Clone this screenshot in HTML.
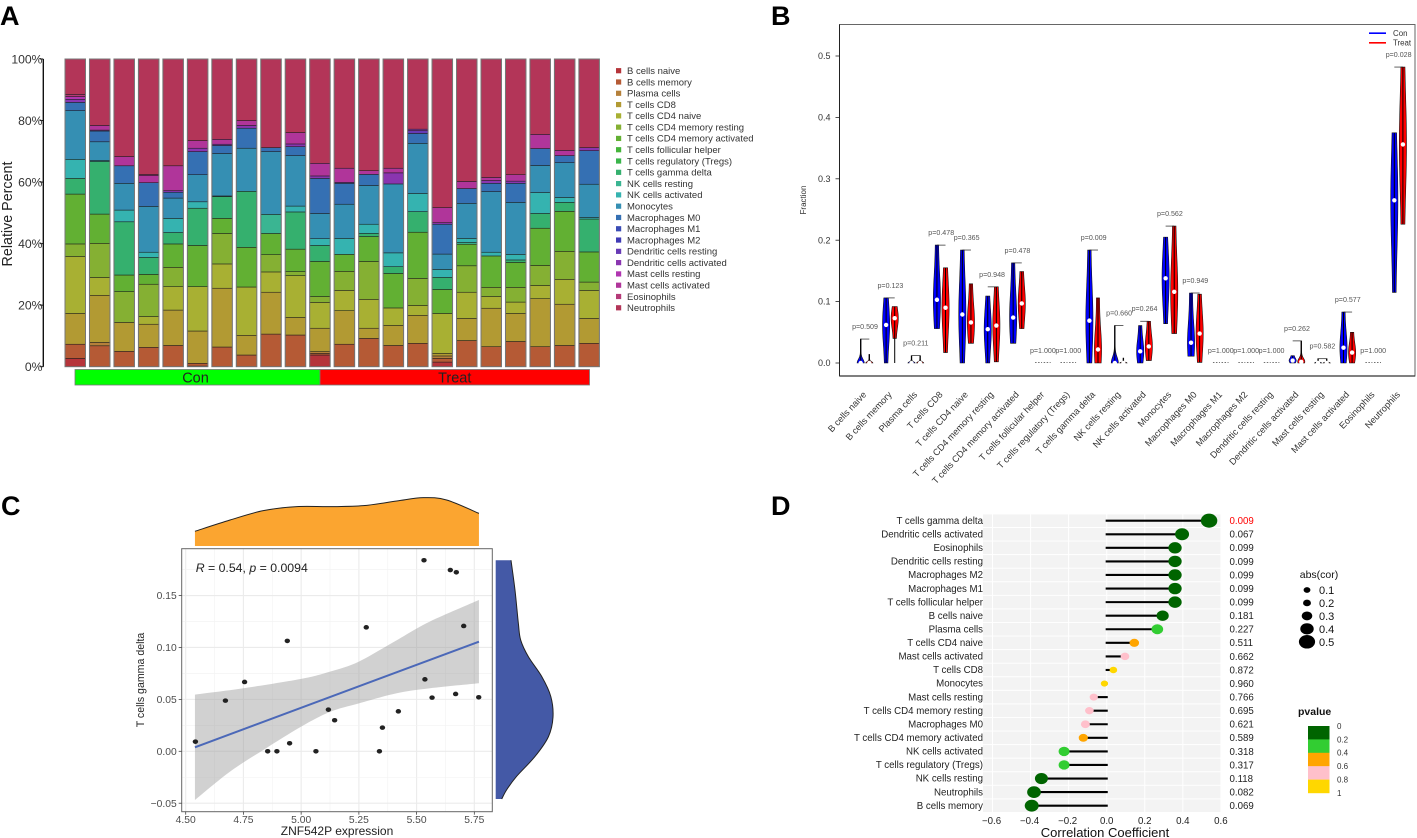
<!DOCTYPE html>
<html lang="en">
<head>
<meta charset="utf-8">
<title>Immune cell infiltration figure</title>
<style>
html,body{margin:0;padding:0;background:#fff;}
svg{display:block;font-family:"Liberation Sans",sans-serif;}
</style>
</head>
<body>
<svg id="fig" xmlns="http://www.w3.org/2000/svg" width="1417" height="838" viewBox="0 0 1417 838">
  <rect x="0" y="0" width="1417" height="838" fill="#fff"/>
  <text x="0" y="25" font-size="27" font-weight="bold">A</text>
  <text x="771" y="25" font-size="27" font-weight="bold">B</text>
  <text x="1" y="515" font-size="27" font-weight="bold">C</text>
  <text x="771" y="515" font-size="27" font-weight="bold">D</text>
  <g id="panelA"></g>
  <g id="panelB"></g>
  <g id="panelC"></g>
  <g id="panelD"></g>
</svg>
<script>
/* ---------- shared data ---------- */
const cellTypes = ["B cells naive","B cells memory","Plasma cells","T cells CD8","T cells CD4 naive","T cells CD4 memory resting","T cells CD4 memory activated","T cells follicular helper","T cells regulatory (Tregs)","T cells gamma delta","NK cells resting","NK cells activated","Monocytes","Macrophages M0","Macrophages M1","Macrophages M2","Dendritic cells resting","Dendritic cells activated","Mast cells resting","Mast cells activated","Eosinophils","Neutrophils"];
const cellColors = ["#b5343a","#b55a35","#b5803a","#b29a33","#a8b033","#85b033","#62b033","#45b53a","#3ab54b","#35b06e","#3ab592","#35b3b0","#358fb3","#3570b3","#3a4cb5","#3f3ab5","#673ab5","#8a35b0","#b035b0","#b0359a","#b53a78","#b33558"];

/* Panel A: percent per cell type (columns follow cellTypes), one row per sample */
const sampleFractions = [
[2.7,4.6,0,10,18.5,4.1,16.2,0,0,5.1,0,6.2,15.8,2.7,0,0,0,1,0.9,0,0.7,11.5],
[0,6.8,1.1,15.3,5.8,11.1,9.5,0,0,17.1,0,0.3,6.1,3.5,0,0,0,0.3,0,1.5,0,21.6],
[0,5,0,9.4,0,10,5.4,0,0,17.3,0,3.8,8.7,5.7,0,0,0,0,0,3,0,31.7],
[0,6.3,0,7.5,2.5,10.5,3.2,0,0,5.5,0,1.7,14.9,7.7,0,0,0,0,0,2.4,0.3,37.5],
[0,6.9,0,11.5,7.6,6.3,7.6,0,0,3.7,0,4.6,6.6,1.9,0,0,0,0.5,0,8.1,0,34.7],
[0.2,0.9,0,10.5,14.4,0,13.4,0,0,12.1,0,2.1,8.8,7.5,0,0,0,1.1,0,2.5,0,26.5],
[0,6.4,0,19.1,7.9,9.9,4.9,0,0,7.1,0,0.2,13.8,2.6,0,0,0,0.4,0,1.6,0,26.1],
[0,3.8,0,6.4,15.7,0,12.9,0,0,18.2,0,0,14,6.5,0,0,0,0.9,0,1.6,0,20],
[0,10.6,0,13.6,6.6,5.6,6.9,0,0,0,6.2,0,20.4,1.3,0,0,0,0,0,0,0,28.8],
[0,10.3,0,5.7,13.6,1.3,7.3,0,0,12.1,0,1.9,16.4,2.9,0,0,0,0.9,0,3.7,0,23.9],
[3.8,0.5,0.6,7.6,8.4,1.9,11.4,0,0,5.2,0,2.2,8.2,11.4,0,0,0,0.8,0,4.1,0,33.9],
[0,7.3,0,10.9,6.6,6.2,5.5,0,0,0,0,5.2,11.1,6.8,0,0,0,0.3,0,4.6,0,35.5],
[0,9.2,0,3.3,9.4,12.3,8.1,0,0,1,0,3,12.6,3.6,0,0,0,0,0,1.2,0,36.3],
[0,6.9,0,6.5,5.7,0,11.2,0,0,2.2,0,4.5,22.4,0,0,0,0,3.6,0,1.5,0,35.5],
[0,7.6,0,9.1,3.2,8.8,15,0,0,6.7,0,5.9,16.3,3.2,0,0,0.9,0.5,0,0,0,22.8],
[1.5,1.2,0.8,0.8,13,0,7.8,0,0,3.9,0,2.6,5,9.7,0,0,0,0.5,0,4.9,0,48.3],
[0,8.5,0,7.2,8.5,8.6,7,0,0,0,0.6,1.3,11.4,4.8,0,0,0,0,0,2.3,0,39.8],
[0,6.5,0,12.5,3.8,3,10.2,0,0,0,0,1.2,19.7,2.7,0,0,0,0.9,0,1,0,38.5],
[0,8.2,0,9.1,3.7,4.8,8.1,0,0,0.8,0,1.8,16.9,6.2,0,0,0,0.7,0,2.1,0,37.6],
[0,6.5,0,15.6,4.3,6.5,12.1,0,0,4.8,0,6.8,8.8,5.5,0,0,0,0,0,4.6,0,24.5],
[0,6.9,0,13.4,8.1,9.1,13,0,0,2.9,0,1.6,11.3,2.3,0,0,0,0,0,1.7,0,29.7],
[0,7.6,0,8.1,9.1,2.7,9.8,0,0,10.7,0,0.5,10.8,10.9,0,0,0,1,0,0,0,28.8]
];
const percentTicks = [0,20,40,60,80,100];
const groupNames = ["Con","Treat"];
const groupSizes = [10,11];
const groupColors = ["#00ff00","#ff0000"];

/* Panel B: violin summaries per cell type */
const conMin    = [0,0,0,0.056,0,0,0.032,0,0,0,0,0,0.064,0.011,0,0,0,0,0,0,0,0.115];
const conMax    = [0.039,0.106,0.012,0.192,0.184,0.109,0.163,0,0,0.184,0.061,0.061,0.205,0.114,0,0,0,0.012,0.007,0.083,0,0.375];
const conMedian = [0,0.062,0,0.103,0.079,0.055,0.074,0,0,0.069,0,0.019,0.138,0.033,0,0,0,0.004,0,0.025,0,0.265];
const treatMin    = [0,0.04,0,0.017,0.032,0.002,0.056,0,0,0,0,0.004,0.048,0.001,0,0,0,0,0,0,0,0.226];
const treatWhiskerMin = [0,0,0,0.017,0.032,0.002,0.056,0,0,0,0,0.004,0.048,0.001,0,0,0,0,0,0,0,0.226];
const treatMax    = [0.014,0.092,0.012,0.155,0.129,0.124,0.149,0,0,0.106,0.008,0.068,0.223,0.112,0,0,0,0.036,0.007,0.05,0,0.482];
const treatMedian = [0,0.073,0,0.09,0.066,0.061,0.097,0,0,0.022,0,0.027,0.116,0.048,0,0,0,0.002,0,0.017,0,0.356];
const pLabels = ["0.509","0.123","0.211","0.478","0.365","0.948","0.478","1.000","1.000","0.009","0.660","0.264","0.562","0.949","1.000","1.000","1.000","0.262","0.582","0.577","1.000","0.028"];
const fractionTicks = [0,0.1,0.2,0.3,0.4,0.5];

/* Panel C: scatter */
const expression = [4.542,4.672,4.755,4.855,4.895,4.940,4.950,5.064,5.118,5.145,5.282,5.339,5.352,5.421,5.532,5.536,5.567,5.646,5.669,5.672,5.704,5.769];
const gammaDelta = [0.0093,0.0488,0.0668,0,0,0.1063,0.0077,0,0.0401,0.0299,0.1194,0,0.0228,0.0385,0.184,0.0693,0.0517,0.1746,0.0552,0.1724,0.1207,0.052];
const fitX = [4.54,5.77];
const fitY = [0.0039,0.1056];
const ribbonUpperX = [4.54,4.75,5.0,5.125,5.25,5.414,5.558,5.77];
const ribbonUpperY = [0.0546,0.0607,0.0697,0.0767,0.0864,0.107,0.125,0.1457];
const ribbonLowerX = [4.54,4.692,4.836,5.0,5.125,5.25,5.414,5.558,5.77];
const ribbonLowerY = [-0.0469,-0.0196,0.0013,0.0238,0.038,0.0462,0.0559,0.0607,0.0655];
const densityTopX = [4.54,4.692,4.836,4.981,5.125,5.269,5.414,5.529,5.63,5.77];
const densityTopD = [0.245,0.433,0.589,0.656,0.656,0.672,0.75,0.806,0.767,0.544];
const densityRightY = [0.184,0.155,0.123,0.107,0.091,0.072,0.053,0.033,0.014,-0.005,-0.024,-0.037,-0.046];
const densityRightD = [0.255,0.322,0.378,0.417,0.545,0.767,0.917,0.955,0.878,0.655,0.35,0.183,0.1];
const scatterXTicks = [4.5,4.75,5,5.25,5.5,5.75];
const scatterYTicks = [-0.05,0,0.05,0.1,0.15];

/* Panel D: lollipop */
const lolliNames = ["T cells gamma delta","Dendritic cells activated","Eosinophils","Dendritic cells resting","Macrophages M2","Macrophages M1","T cells follicular helper","B cells naive","Plasma cells","T cells CD4 naive","Mast cells activated","T cells CD8","Monocytes","Mast cells resting","T cells CD4 memory resting","Macrophages M0","T cells CD4 memory activated","NK cells activated","T cells regulatory (Tregs)","NK cells resting","Neutrophils","B cells memory"];
const lolliCor = [0.538,0.396,0.359,0.359,0.359,0.359,0.359,0.294,0.266,0.145,0.096,0.035,-0.012,-0.068,-0.091,-0.112,-0.123,-0.224,-0.224,-0.343,-0.382,-0.394];
const lolliP = ["0.009","0.067","0.099","0.099","0.099","0.099","0.099","0.181","0.227","0.511","0.662","0.872","0.960","0.766","0.695","0.621","0.589","0.318","0.317","0.118","0.082","0.069"];
const corTicks = [-0.6,-0.4,-0.2,0,0.2,0.4,0.6];
const absCorLegend = [0.1,0.2,0.3,0.4,0.5];
const pBreakLabels = ["0","0.2","0.4","0.6","0.8","1"];
const pBreakColors = ["#006400","#32cd32","#ffa500","#ffc0cb","#ffd700"];

/* ---------- helpers ---------- */
const NS = "http://www.w3.org/2000/svg";
function mk(tag, attrs, parent) {
  const el = document.createElementNS(NS, tag);
  for (const k in attrs) el.setAttribute(k, attrs[k]);
  parent.appendChild(el);
  return el;
}
function smooth(pts) {
  let d = "";
  for (let i = 0; i < pts.length - 1; i++) {
    const p0 = pts[Math.max(i - 1, 0)], p1 = pts[i], p2 = pts[i + 1], p3 = pts[Math.min(i + 2, pts.length - 1)];
    const c1 = [p1[0] + (p2[0] - p0[0]) / 6, p1[1] + (p2[1] - p0[1]) / 6];
    const c2 = [p2[0] - (p3[0] - p1[0]) / 6, p2[1] - (p3[1] - p1[1]) / 6];
    d += "C" + c1[0].toFixed(2) + " " + c1[1].toFixed(2) + " " + c2[0].toFixed(2) + " " + c2[1].toFixed(2) + " " + p2[0].toFixed(2) + " " + p2[1].toFixed(2);
  }
  return d;
}

/* ---------- Panel A ---------- */
(function () {
  const g = document.getElementById("panelA");
  const yA = p => 366.7 - p * 3.077;
  const xA = i => 65 + i * 24.47;
  const barW = 20.5;
  const axis = mk("line", {x1: 43.3, x2: 43.3, y1: yA(0), y2: yA(100), stroke: "#111", "stroke-width": 1.4}, g);
  
  
  percentTicks.forEach(t => {
    const tick = mk("line", {x1: 40, x2: 43.3, y1: yA(t), y2: yA(t), stroke: "#111", "stroke-width": 1}, g);
    
    
    const lab = mk("text", {x: 42.5, y: yA(t) + 4.3, "text-anchor": "end", "font-size": 12.2, fill: "#333"}, g);
    
    
    lab.textContent = t + "%";
  });
  const title = mk("text", {transform: "translate(12,214) rotate(-90)", "text-anchor": "middle", "font-size": 14.3, fill: "#222"}, g);
  
  
  title.textContent = "Relative Percent";
  sampleFractions.forEach((row, i) => {
    let cum = 0;
    row.forEach((v, k) => {
      if (v <= 0) return;
      const seg = mk("rect", {x: xA(i), y: yA(cum + v), width: barW, height: v * 3.077, fill: cellColors[k], stroke: "#1a1a1a", "stroke-width": 0.6, "stroke-opacity": 0.85}, g);
      
      
      cum += v;
    });
    const frame = mk("rect", {x: xA(i), y: yA(100), width: barW, height: 307.7, fill: "none", stroke: "#777", "stroke-width": 1}, g);
    
    
  });
  let start = 0;
  const ax = n => 75 + n * 24.5;
  groupNames.forEach((name, j) => {
    const r = mk("rect", {x: ax(start), y: 369.5, width: groupSizes[j] * 24.5, height: 15.5, fill: groupColors[j], stroke: "#777", "stroke-width": 0.8}, g);
    
    
    const t = mk("text", {x: ax(start) + groupSizes[j] * 12.25 - (j ? 0 : 2), y: 382.5, "text-anchor": "middle", "font-size": 14.5, fill: "#222"}, g);
    
    
    t.textContent = name;
    start += groupSizes[j];
  });
  cellTypes.forEach((name, k) => {
    const ly = 70.7 + k * 11.29;
    const sq = mk("rect", {x: 616, y: ly - 2.6, width: 5.2, height: 5.2, fill: cellColors[k]}, g);
    
    
    const t = mk("text", {x: 627, y: ly + 3.3, "font-size": 9.5, fill: "#333"}, g);
    
    
    t.textContent = name;
  });
})();

/* ---------- Panel B ---------- */
(function () {
  const g = document.getElementById("panelB");
  const yB = v => 363 - v * 614;
  const xB = i => 865 + i * 25.41;
  const box = mk("rect", {x: 839.5, y: 24.5, width: 575.5, height: 351.5, fill: "#fff", stroke: "#666", "stroke-width": 1}, g);
  
  
  const leftEdge = mk("line", {x1: 839.5, x2: 839.5, y1: 24.5, y2: 376, stroke: "#222", "stroke-width": 1}, g);
  
  
  const bottomEdge = mk("line", {x1: 839.5, x2: 1415, y1: 376, y2: 376, stroke: "#333", "stroke-width": 1.2}, g);
  
  
  fractionTicks.forEach(t => {
    const tick = mk("line", {x1: 835.5, x2: 839.5, y1: yB(t), y2: yB(t), stroke: "#222", "stroke-width": 0.8}, g);
    
    
    const lab = mk("text", {x: 830.5, y: yB(t) + 3.1, "text-anchor": "end", "font-size": 9, fill: "#333"}, g);
    
    
    lab.textContent = t.toFixed(1);
  });
  const title = mk("text", {transform: "translate(806,200) rotate(-90)", "text-anchor": "middle", "font-size": 8, fill: "#333"}, g);
  
  
  title.textContent = "Fraction";

  function violin(cx, lo, hi, med, color, whiskerLo) {
    if (hi <= 0) {
      const dash = mk("line", {x1: cx - 3.5, x2: cx + 3.5, y1: yB(0) - 0.5, y2: yB(0) - 0.5, stroke: "#444", "stroke-width": 0.8, "stroke-dasharray": "1.5 1.5"}, g);
      
      
      return;
    }
    const skewed = (med - lo) < (hi - lo) * 0.12;
    const s = Math.max((hi - lo) * (skewed ? 0.22 : 0.42), 0.001);
    const floorW = skewed ? 0.1 : 0.42;
    const W = 3.6;
    const n = 22;
    const right = [], left = [];
    for (let j = 0; j <= n; j++) {
      const v = lo + (hi - lo) * j / n;
      const h = W * (floorW + (1 - floorW) * Math.exp(-Math.pow((v - med) / s, 2)));
      right.push([cx + h, yB(v)]);
      left.push([cx - h, yB(v)]);
    }
    let d = "M" + left.map(p => p[0].toFixed(2) + " " + p[1].toFixed(2)).join("L");
    d += "L" + right.reverse().map(p => p[0].toFixed(2) + " " + p[1].toFixed(2)).join("L") + "Z";
    const body = mk("path", {d: d, fill: color, stroke: "#111", "stroke-width": 0.6}, g);
    
    
    const whisk = mk("line", {x1: cx, x2: cx, y1: yB(whiskerLo), y2: yB(hi), stroke: "#000", "stroke-width": 1}, g);
    
    
    const dot = mk("circle", {cx: cx, cy: yB(med), r: 2.2, fill: "#fff"}, g);
    
    
  }
  cellTypes.forEach((name, i) => {
    const cx = xB(i);
    violin(cx - 4.3, conMin[i], conMax[i], conMedian[i], "#0000ff", conMin[i]);
    violin(cx + 4.3, treatMin[i], treatMax[i], treatMedian[i], "#ff0000", treatWhiskerMin[i]);
    const top = Math.max(conMax[i], treatMax[i]);
    if (top > 0) {
      const br = mk("line", {x1: cx - 4.3, x2: cx + 4.3, y1: yB(top), y2: yB(top), stroke: "#222", "stroke-width": 0.7}, g);
      
      
    }
    const p = mk("text", {x: cx, y: yB(top) - 10, "text-anchor": "middle", "font-size": 7.1, fill: "#555"}, g);
    
    
    p.textContent = "p=" + pLabels[i];
    const lab = mk("text", {transform: "translate(" + (cx + 2) + ",395) rotate(-47)", "text-anchor": "end", "font-size": 9.2, fill: "#333"}, g);
    
    
    lab.textContent = name;
  });
  groupNames.forEach((name, j) => {
    const ly = 33.2 + j * 9.6;
    const ln = mk("line", {x1: 1369, x2: 1386, y1: ly, y2: ly, stroke: j ? "#ff0000" : "#0000ff", "stroke-width": 1.6}, g);
    
    
    const t = mk("text", {x: 1393, y: ly + 2.8, "font-size": 7.9, fill: "#333"}, g);
    
    
    t.textContent = name;
  });
})();

/* ---------- Panel C ---------- */
(function () {
  const g = document.getElementById("panelC");
  const xC = v => 185.7 + (v - 4.5) * 230.9;
  const yC = v => 751.3 - v * 1038.3;
  const L = 181.7, R = 492.3, T = 548.7, B = 811.7;
  const bg = mk("rect", {x: L, y: T, width: R - L, height: B - T, fill: "#fff"}, g);
  
  
  scatterXTicks.forEach((t, i) => {
    const major = mk("line", {x1: xC(t), x2: xC(t), y1: T, y2: B, stroke: "#ebebeb", "stroke-width": 1.1}, g);
    
    
    if (i < scatterXTicks.length - 1) {
      const minor = mk("line", {x1: xC(t + 0.125), x2: xC(t + 0.125), y1: T, y2: B, stroke: "#f2f2f2", "stroke-width": 0.6}, g);
      
      
    }
  });
  scatterYTicks.forEach((t, i) => {
    const major = mk("line", {x1: L, x2: R, y1: yC(t), y2: yC(t), stroke: "#ebebeb", "stroke-width": 1.1}, g);
    
    
    const minor = mk("line", {x1: L, x2: R, y1: yC(t + 0.025), y2: yC(t + 0.025), stroke: "#f2f2f2", "stroke-width": 0.6}, g);
    
    
  });
  const upper = ribbonUpperX.map((x, i) => [xC(x), yC(ribbonUpperY[i])]);
  const lower = ribbonLowerX.map((x, i) => [xC(x), yC(ribbonLowerY[i])]).reverse();
  const ribD = "M" + upper[0][0] + " " + upper[0][1] + smooth(upper) + "L" + lower[0][0] + " " + lower[0][1] + smooth(lower) + "Z";
  const rib = mk("path", {d: ribD, fill: "#999", "fill-opacity": 0.45}, g);
  
  
  expression.forEach((x, i) => {
    const pt = mk("ellipse", {cx: xC(x), cy: yC(gammaDelta[i]), rx: 2.7, ry: 2.3, fill: "#222"}, g);
    
    
  });
  const fit = mk("line", {x1: xC(fitX[0]), y1: yC(fitY[0]), x2: xC(fitX[1]), y2: yC(fitY[1]), stroke: "#4b68b8", "stroke-width": 2}, g);
  
  
  const frame = mk("rect", {x: L, y: T, width: R - L, height: B - T, fill: "none", stroke: "#666", "stroke-width": 1}, g);
  
  
  scatterXTicks.forEach(t => {
    const tk = mk("line", {x1: xC(t), x2: xC(t), y1: B, y2: B + 3, stroke: "#444", "stroke-width": 0.8}, g);
    
    
    const lab = mk("text", {x: xC(t), y: 823, "text-anchor": "middle", "font-size": 10.3, fill: "#4d4d4d"}, g);
    
    
    lab.textContent = t.toFixed(2);
  });
  scatterYTicks.forEach(t => {
    const tk = mk("line", {x1: L - 3, x2: L, y1: yC(t), y2: yC(t), stroke: "#444", "stroke-width": 0.8}, g);
    
    
    const lab = mk("text", {x: L - 5, y: yC(t) + 3.6, "text-anchor": "end", "font-size": 10.3, fill: "#4d4d4d"}, g);
    
    
    lab.textContent = (t < 0 ? "\u2212" + Math.abs(t).toFixed(2) : t.toFixed(2));
  });
  const xt = mk("text", {x: 337, y: 835, "text-anchor": "middle", "font-size": 12, fill: "#222"}, g);
  
  
  xt.textContent = "ZNF542P expression";
  const yt = mk("text", {transform: "translate(144,680) rotate(-90)", "text-anchor": "middle", "font-size": 10.6, fill: "#222"}, g);
  
  
  yt.textContent = "T cells gamma delta";
  const ann = mk("text", {x: 195.7, y: 572, "font-size": 12.3, fill: "#222"}, g);
  
  
  const r1 = mk("tspan", {"font-style": "italic"}, ann);
  r1.textContent = "R";
  const r2 = mk("tspan", {}, ann);
  r2.textContent = " = 0.54, ";
  const r3 = mk("tspan", {"font-style": "italic"}, ann);
  r3.textContent = "p";
  const r4 = mk("tspan", {}, ann);
  r4.textContent = " = 0.0094";

  const baseTop = 546;
  const topPts = densityTopX.map((x, i) => [xC(x), baseTop - densityTopD[i] * 60]);
  const fillTop = mk("path", {d: "M" + topPts[0][0] + " " + baseTop + "L" + topPts[0][0] + " " + topPts[0][1] + smooth(topPts) + "L" + topPts[topPts.length - 1][0] + " " + baseTop + "Z", fill: "#fba530"}, g);
  
  
  const lineTop = mk("path", {d: "M" + topPts[0][0] + " " + topPts[0][1] + smooth(topPts), fill: "none", stroke: "#222", "stroke-width": 1}, g);
  
  
  const baseRight = 495.7;
  const rPts = densityRightY.map((v, i) => [baseRight + densityRightD[i] * 60, yC(v)]);
  const fillRight = mk("path", {d: "M" + baseRight + " " + rPts[0][1] + "L" + rPts[0][0] + " " + rPts[0][1] + smooth(rPts) + "L" + baseRight + " " + rPts[rPts.length - 1][1] + "Z", fill: "#4459a6"}, g);
  
  
  const lineRight = mk("path", {d: "M" + rPts[0][0] + " " + rPts[0][1] + smooth(rPts), fill: "none", stroke: "#222", "stroke-width": 1}, g);
  
  
})();

/* ---------- Panel D ---------- */
(function () {
  const g = document.getElementById("panelD");
  const xD = v => 1106.7 + v * 190.3;
  const yD = i => 520.7 + i * 13.57;
  const L = 983, R = 1221;
  const pColor = p => pBreakColors[Math.min(Math.floor(parseFloat(p) / 0.2), 4)];
  lolliNames.forEach((n, i) => {
    const band = mk("rect", {x: L, y: yD(i) - 6.3, width: R - L, height: 12.6, fill: "#f3f3f3"}, g);
    
    
  });
  corTicks.forEach(t => {
    const gl = mk("line", {x1: xD(t), x2: xD(t), y1: 513, y2: 813, stroke: "#fff", "stroke-width": 1}, g);
    
    
  });
  lolliNames.forEach((n, i) => {
    const c = lolliCor[i];
    const stem = mk("line", {x1: xD(0), x2: xD(c), y1: yD(i), y2: yD(i), stroke: "#000", "stroke-width": 2.1, "stroke-linecap": "square"}, g);
    
    
    const ry = 3 + 7.5 * Math.abs(c);
    const dot = mk("ellipse", {cx: xD(c), cy: yD(i), rx: ry * 1.17, ry: ry, fill: pColor(lolliP[i])}, g);
    
    
    const lab = mk("text", {x: 983, y: yD(i) + 3.2, "text-anchor": "end", "font-size": 9.7, fill: "#222"}, g);
    
    
    lab.textContent = n;
    const pv = mk("text", {x: 1229.5, y: yD(i) + 3.4, "font-size": 9.7, fill: i === 0 ? "#ff0000" : "#222"}, g);
    
    
    pv.textContent = lolliP[i];
  });
  corTicks.forEach(t => {
    const lab = mk("text", {x: xD(t) - (t < 0 ? 1 : 0), y: 824, "text-anchor": "middle", "font-size": 9.7, fill: "#222"}, g);
    
    
    lab.textContent = (t < 0 ? "\u2212" + Math.abs(t).toFixed(1) : t.toFixed(1));
  });
  const title = mk("text", {x: 1105, y: 837, "text-anchor": "middle", "font-size": 13, fill: "#111"}, g);
  
  
  title.textContent = "Correlation Coefficient";
  const lt = mk("text", {x: 1319, y: 578, "text-anchor": "middle", "font-size": 10.5, fill: "#111"}, g);
  
  
  lt.textContent = "abs(cor)";
  absCorLegend.forEach((v, i) => {
    const ly = 590 + i * 12.95;
    const ry = 1 + 11.5 * v + (i === 0 ? 0.7 : 0);
    const c = mk("ellipse", {cx: 1307, cy: ly, rx: ry * 1.2, ry: ry, fill: "#000"}, g);
    
    
    const t = mk("text", {x: 1319, y: ly + 4, "font-size": 11, fill: "#111"}, g);
    
    
    t.textContent = v.toFixed(1);
  });
  const pt = mk("text", {x: 1298, y: 715, "font-size": 10.5, "font-weight": "bold", fill: "#111"}, g);
  
  
  pt.textContent = "pvalue";
  const blockH = 13.4;
  pBreakColors.forEach((c, i) => {
    const b = mk("rect", {x: 1308, y: 726 + i * blockH, width: 21.5, height: blockH + 0.2, fill: c}, g);
    
    
  });
  pBreakLabels.forEach((l, i) => {
    const t = mk("text", {x: 1337, y: 726 + i * blockH + 2.9, "font-size": 8, fill: "#333"}, g);
    
    
    t.textContent = l;
  });
})();
</script>
</body>
</html>
